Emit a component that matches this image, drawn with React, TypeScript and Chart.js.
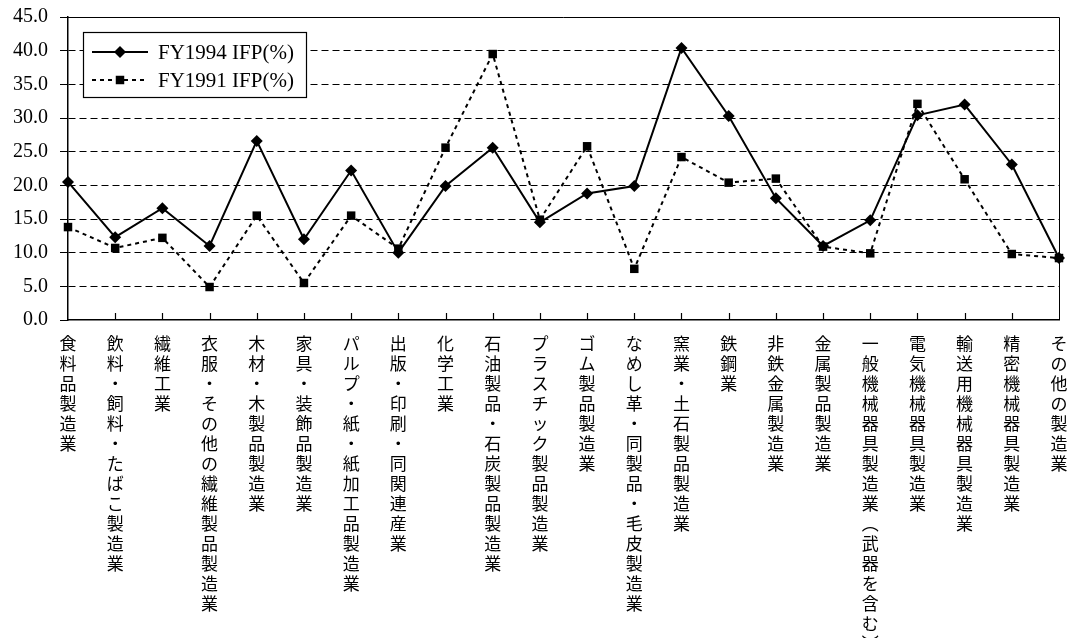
import React, { useEffect, useRef } from "react";
import { Chart, registerables } from "chart.js";

Chart.register(...registerables);

// 産業分類
const categories: string[] = [
  "食料品製造業",
  "飲料・飼料・たばこ製造業",
  "繊維工業",
  "衣服・その他の繊維製品製造業",
  "木材・木製品製造業",
  "家具・装飾品製造業",
  "パルプ・紙・紙加工品製造業",
  "出版・印刷・同関連産業",
  "化学工業",
  "石油製品・石炭製品製造業",
  "プラスチック製品製造業",
  "ゴム製品製造業",
  "なめし革・同製品・毛皮製造業",
  "窯業・土石製品製造業",
  "鉄鋼業",
  "非鉄金属製造業",
  "金属製品製造業",
  "一般機械器具製造業(武器を含む)",
  "電気機械器具製造業",
  "輸送用機械器具製造業",
  "精密機械器具製造業",
  "その他の製造業",
];

const fy1994: number[] = [
  20.5, 12.3, 16.6, 11.0, 26.6, 12.0, 22.2, 10.0, 19.9, 25.6, 14.5, 18.8,
  19.9, 40.4, 30.3, 18.1, 11.0, 14.8, 30.4, 32.0, 23.1, 9.2,
];

const fy1991: number[] = [
  13.8, 10.7, 12.2, 4.9, 15.5, 5.5, 15.5, 10.6, 25.6, 39.5, 14.9, 25.8, 7.6,
  24.2, 20.4, 21.0, 10.9, 9.9, 32.1, 20.9, 9.8, 9.2,
];

const seriesNames: string[] = ["FY1994 IFP(%)", "FY1991 IFP(%)"];

const yMin = 0;
const yMax = 45;
const yStep = 5;

// 縦書き用：一文字ずつ改行し、括弧は縦書き形に置き換える
const toVertical = (s: string): string[] =>
  Array.from(s).map((c) => (c === "(" ? "︵" : c === ")" ? "︶" : c));

const SERIF = '"Liberation Serif", "Times New Roman", serif';
const CJK = '"Noto Sans CJK JP", sans-serif';

// 枠線・x軸の内向き目盛り・凡例
const framePlugin = {
  id: "frameAndLegend",
  afterDraw(chart: any) {
    const { ctx, chartArea } = chart;
    const xScale = chart.scales.x;
    ctx.save();
    ctx.strokeStyle = "#000";
    ctx.lineWidth = 1;
    ctx.setLineDash([]);
    ctx.beginPath();
    ctx.moveTo(chartArea.left, chartArea.top + 0.5);
    ctx.lineTo(chartArea.right + 0.5, chartArea.top + 0.5);
    ctx.lineTo(chartArea.right + 0.5, chartArea.bottom);
    ctx.stroke();

    // x軸目盛り（内側）
    ctx.lineWidth = 1.2;
    for (let i = 1; i < categories.length - 1; i++) {
      const x = Math.round(xScale.getPixelForValue(i)) + 0.5;
      ctx.beginPath();
      ctx.moveTo(x, chartArea.bottom);
      ctx.lineTo(x, chartArea.bottom - 7);
      ctx.stroke();
    }

    // 凡例
    const bx = 83;
    const by = 32;
    const bw = 223;
    const bh = 65;
    ctx.fillStyle = "#fff";
    ctx.fillRect(bx, by, bw, bh);
    ctx.lineWidth = 1.2;
    ctx.strokeStyle = "#000";
    ctx.strokeRect(bx + 0.5, by + 0.5, bw, bh);

    const rows = [52, 80];
    chart.data.datasets.forEach((ds: any, i: number) => {
      const y = rows[i];
      ctx.save();
      ctx.strokeStyle = "#000";
      ctx.lineWidth = ds.borderWidth;
      ctx.setLineDash(ds.borderDash || []);
      ctx.beginPath();
      ctx.moveTo(92, y);
      ctx.lineTo(148, y);
      ctx.stroke();
      ctx.restore();
      ctx.fillStyle = "#000";
      ctx.beginPath();
      if (ds.pointStyle === "rectRot") {
        const r = ds.pointRadius;
        ctx.moveTo(120, y - r);
        ctx.lineTo(120 + r, y);
        ctx.lineTo(120, y + r);
        ctx.lineTo(120 - r, y);
        ctx.closePath();
      } else {
        const s = ds.pointRadius * Math.SQRT1_2;
        ctx.rect(120 - s, y - s, 2 * s, 2 * s);
      }
      ctx.fill();
      ctx.font = `21px ${SERIF}`;
      ctx.textBaseline = "middle";
      ctx.textAlign = "left";
      ctx.fillText(ds.label, 158, y + 1);
    });
    ctx.restore();
  },
};

export default function App() {
  const canvasRef = useRef<HTMLCanvasElement | null>(null);

  useEffect(() => {
    document.body.style.margin = "0";
    const canvas = canvasRef.current;
    if (!canvas) return;

    const chart = new Chart(canvas, {
      type: "line",
      data: {
        labels: categories.map(toVertical),
        datasets: [
          {
            label: seriesNames[0],
            data: fy1994,
            borderColor: "#000",
            backgroundColor: "#000",
            borderWidth: 2,
            pointStyle: "rectRot",
            pointRadius: 6,
            pointBorderWidth: 0,
            pointBackgroundColor: "#000",
            tension: 0,
          },
          {
            label: seriesNames[1],
            data: fy1991,
            borderColor: "#000",
            backgroundColor: "#000",
            borderWidth: 2,
            borderDash: [4, 4],
            pointStyle: "rect",
            pointRadius: 6,
            pointBorderWidth: 0,
            pointBackgroundColor: "#000",
            tension: 0,
          },
        ],
      },
      options: {
        responsive: false,
        animation: false,
        layout: { padding: { top: 17, right: 21, bottom: 0, left: 0 } },
        plugins: {
          legend: { display: false },
          tooltip: { enabled: false },
        },
        scales: {
          x: {
            type: "category",
            offset: false,
            grid: { display: false },
            border: { display: true, color: "#000", width: 1.5 },
            ticks: {
              autoSkip: false,
              maxRotation: 0,
              minRotation: 0,
              padding: 6,
              color: "#000",
              font: { family: CJK, size: 17, lineHeight: "20px" },
            },
            afterFit: (scale: any) => {
              scale.height = 318;
              scale.paddingLeft = 0;
              scale.paddingRight = 0;
            },
          },
          y: {
            min: yMin,
            max: yMax,
            grid: {
              color: (c: any) =>
                c.tick && (c.tick.value === yMin || c.tick.value === yMax)
                  ? "rgba(0,0,0,0)"
                  : "#000",
              lineWidth: 1,
              drawTicks: true,
              tickLength: 8,
              tickColor: "#000",
              tickBorderDash: [],
            },
            border: { display: true, color: "#000", width: 1.5, dash: [7, 4] },
            ticks: {
              stepSize: yStep,
              padding: 12,
              color: "#000",
              font: { family: SERIF, size: 20 },
              callback: (v: any) => Number(v).toFixed(1),
            },
            afterFit: (scale: any) => {
              scale.width = 68;
              scale.paddingTop = 0;
              scale.paddingBottom = 0;
            },
          },
        },
      },
      plugins: [framePlugin],
    });

    return () => chart.destroy();
  }, []);

  return (
    <canvas
      ref={canvasRef}
      width={1080}
      height={638}
      style={{ display: "block", width: 1080, height: 638 }}
    />
  );
}
